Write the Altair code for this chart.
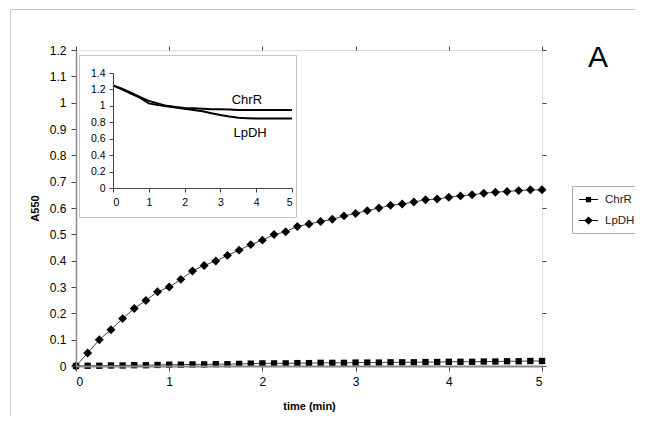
import altair as alt
import pandas as pd

# ---------------- data ----------------
time_min = [0.0, 0.125, 0.25, 0.375, 0.5, 0.625, 0.75, 0.875, 1.0, 1.125, 1.25,
            1.375, 1.5, 1.625, 1.75, 1.875, 2.0, 2.125, 2.25, 2.375, 2.5, 2.625,
            2.75, 2.875, 3.0, 3.125, 3.25, 3.375, 3.5, 3.625, 3.75, 3.875, 4.0,
            4.125, 4.25, 4.375, 4.5, 4.625, 4.75, 4.875, 5.0]
chrr = [0.000, 0.001, 0.001, 0.002, 0.002, 0.003, 0.003, 0.004, 0.005, 0.005, 0.006,
        0.006, 0.007, 0.007, 0.008, 0.009, 0.010, 0.010, 0.010, 0.011, 0.011, 0.012,
        0.012, 0.012, 0.013, 0.013, 0.013, 0.014, 0.014, 0.014, 0.015, 0.015, 0.016,
        0.016, 0.016, 0.017, 0.017, 0.018, 0.018, 0.019, 0.019]
lpdh = [0.000, 0.049, 0.100, 0.138, 0.180, 0.218, 0.249, 0.282, 0.300, 0.329, 0.361,
        0.382, 0.399, 0.420, 0.440, 0.461, 0.478, 0.499, 0.510, 0.530, 0.539, 0.549,
        0.557, 0.570, 0.579, 0.590, 0.600, 0.610, 0.615, 0.623, 0.631, 0.634, 0.641,
        0.646, 0.650, 0.656, 0.660, 0.663, 0.666, 0.669, 0.669]
series_names = ["ChrR", "LpDH"]

inset_time = [0.0, 0.25, 0.5, 0.75, 1.0, 1.25, 1.5, 1.75, 2.0, 2.25, 2.5, 2.75,
              3.0, 3.25, 3.5, 3.75, 4.0, 4.25, 4.5, 4.75, 5.0]
inset_chrr = [1.25, 1.21, 1.16, 1.11, 1.06, 1.03, 1.00, 0.985, 0.975, 0.97, 0.965,
              0.96, 0.96, 0.955, 0.95, 0.95, 0.95, 0.95, 0.95, 0.95, 0.95]
inset_lpdh = [1.25, 1.20, 1.15, 1.10, 1.03, 1.01, 0.995, 0.98, 0.965, 0.95, 0.935,
              0.91, 0.89, 0.87, 0.855, 0.85, 0.845, 0.845, 0.845, 0.845, 0.845]
inset_label_text = ["ChrR", "LpDH"]
inset_label_t = [3.74, 3.83]
inset_label_v = [1.07, 0.67]

x_ticks = [0, 1, 2, 3, 4, 5]
y_ticks = [0, 0.1, 0.2, 0.3, 0.4, 0.5, 0.6, 0.7, 0.8, 0.9, 1.0, 1.1, 1.2]
y_right_ticks = [0, 0.2, 0.4, 0.6, 0.8, 1.0, 1.2]
inset_y_ticks = [0, 0.2, 0.4, 0.6, 0.8, 1.0, 1.2, 1.4]
panel_letter = ["A"]

# ---------------- layout ----------------
W, H = 466, 316
FONT = "Liberation Sans"

main_df = pd.DataFrame({
    "t": time_min + time_min,
    "v": chrr + lpdh,
    "s": [series_names[0]] * len(time_min) + [series_names[1]] * len(time_min),
})
inset_df = pd.DataFrame({
    "it": inset_time + inset_time,
    "iv": inset_chrr + inset_lpdh,
    "s": [series_names[0]] * len(inset_time) + [series_names[1]] * len(inset_time),
})
inset_lab_df = pd.DataFrame({"it": inset_label_t, "iv": inset_label_v, "label": inset_label_text})
one = pd.DataFrame({"a": [0]})
letter_df = pd.DataFrame({"label": panel_letter})


def xs():
    return alt.Scale(domain=[0, 5], nice=False, zero=False)


def ys():
    return alt.Scale(domain=[0, 1.2], nice=False)


def ixs():
    return alt.Scale(domain=[0, 5], range=[37, 216], nice=False, zero=False)


def iys():
    return alt.Scale(domain=[0, 1.4], range=[138, 23], nice=False)


# decorations: outer figure border and inset box
border_left = alt.Chart(one).mark_rule(color="#c8c8c8", strokeWidth=1).encode(
    x=alt.value(-65.5), y=alt.value(-40.5), y2=alt.value(H + 60))
border_top = alt.Chart(one).mark_rule(color="#c8c8c8", strokeWidth=1).encode(
    x=alt.value(-65.5), x2=alt.value(W + 110), y=alt.value(-40.5))
inset_box = alt.Chart(one).mark_rect(fillOpacity=0, stroke="#c4c4c4", strokeWidth=1).encode(
    x=alt.value(3.5), x2=alt.value(220.5), y=alt.value(5.5), y2=alt.value(167.5))
letter = alt.Chart(letter_df).mark_text(
    fontSize=30, font=FONT, color="black", align="center", baseline="middle"
).encode(x=alt.value(522), y=alt.value(8), text="label:N")

# main plot
main_line = alt.Chart(main_df).mark_line(color="#444", strokeWidth=1).encode(
    x=alt.X("t:Q", scale=xs(), axis=alt.Axis(
        orient="bottom", values=x_ticks, format="~g", title="time (min)", grid=False,
        domainColor="#8a8a8a", domainWidth=2, tickColor="#444", tickSize=5,
        labelFontSize=12, labelPadding=5, titleFontSize=11, titleFontWeight="bold",
        titlePadding=13, zindex=1)),
    y=alt.Y("v:Q", scale=ys(), axis=alt.Axis(
        orient="left", values=y_ticks, format="~g", title="A550", grid=False,
        domainColor="#8a8a8a", domainWidth=1.5, tickColor="#444", tickSize=5,
        labelFontSize=12, labelPadding=5, titleFontSize=11, titleFontWeight="bold",
        titlePadding=9, zindex=1)),
    detail="s:N",
)
main_pts = alt.Chart(main_df).mark_point(filled=True, color="black", opacity=1).encode(
    x=alt.X("t:Q", scale=xs(), axis=None),
    y=alt.Y("v:Q", scale=ys(), axis=None),
    shape=alt.Shape("s:N", scale=alt.Scale(domain=series_names, range=["square", "diamond"]), legend=None),
    size=alt.Size("s:N", scale=alt.Scale(domain=series_names, range=[40, 80]), legend=None),
)

# top/right frame ticks
frame = alt.Chart(main_df).mark_point(opacity=0).encode(
    x=alt.X("t:Q", scale=xs(), axis=alt.Axis(
        orient="top", values=x_ticks, labels=False, domain=False, grid=False,
        tickColor="#444", tickSize=4, title=None, zindex=1)),
    y=alt.Y("v:Q", scale=ys(), axis=alt.Axis(
        orient="right", values=y_right_ticks, labels=False, domain=False, grid=False,
        tickColor="#444", tickSize=4, title=None, zindex=1)),
)

# inset
inset_lines = alt.Chart(inset_df).mark_line(color="black", strokeWidth=2).encode(
    x=alt.X("it:Q", scale=ixs(), axis=alt.Axis(
        orient="bottom", offset=-(H - 138), values=x_ticks, format="~g", title=None,
        grid=False, domainColor="#444", tickColor="#444", tickSize=4,
        labelFontSize=10.5, labelPadding=5, zindex=1)),
    y=alt.Y("iv:Q", scale=iys(), axis=alt.Axis(
        orient="left", offset=-37, values=inset_y_ticks, format="~g", title=None,
        grid=False, domainColor="#444", tickColor="#444", tickSize=4,
        labelFontSize=10.5, labelPadding=4, zindex=1)),
    detail="s:N",
)
inset_text = alt.Chart(inset_lab_df).mark_text(fontSize=13, font=FONT, color="black").encode(
    x=alt.X("it:Q", scale=ixs(), axis=None),
    y=alt.Y("iv:Q", scale=iys(), axis=None),
    text="label:N",
)

# legend (line + marker symbols, drawn as filled paths)
legend_paths = [
    "M-0.87,-0.07H1.67V0.07H-0.87ZM0.05,-0.35H0.75V0.35H0.05Z",
    "M-0.87,-0.07H1.67V0.07H-0.87ZM0.4,-0.55L0.95,0L0.4,0.55L-0.15,0Z",
]
legend_layer = alt.Chart(main_df).mark_point(filled=True, color="black", opacity=0).encode(
    x=alt.value(0), y=alt.value(0),
    shape=alt.Shape("s:N", scale=alt.Scale(domain=series_names, range=legend_paths),
                    legend=alt.Legend(
                        orient="none", legendX=496, legendY=136, title=None,
                        strokeColor="#b0b0b0", padding=5, labelFontSize=11.5,
                        labelFont=FONT, labelColor="#222", symbolSize=225,
                        symbolFillColor="black", symbolOpacity=1,
                        rowPadding=6, labelOffset=11)),
)

chart = alt.layer(
    border_left, border_top, inset_box, main_line, main_pts, frame,
    inset_lines, inset_text, legend_layer, letter
).resolve_scale(
    x="independent", y="independent", shape="independent"
).resolve_axis(
    x="independent", y="independent"
).properties(
    width=W, height=H,
    autosize=alt.AutoSizeParams(type="none"),
    padding={"left": 68, "top": 42, "right": 93, "bottom": 50},
).configure_view(
    stroke="#666", strokeWidth=1
).configure_axis(
    labelFont=FONT, titleFont=FONT, labelColor="#222", titleColor="#111"
).configure(background="white")

chart.save("out.html", embed_options={"renderer": "svg", "actions": False})
